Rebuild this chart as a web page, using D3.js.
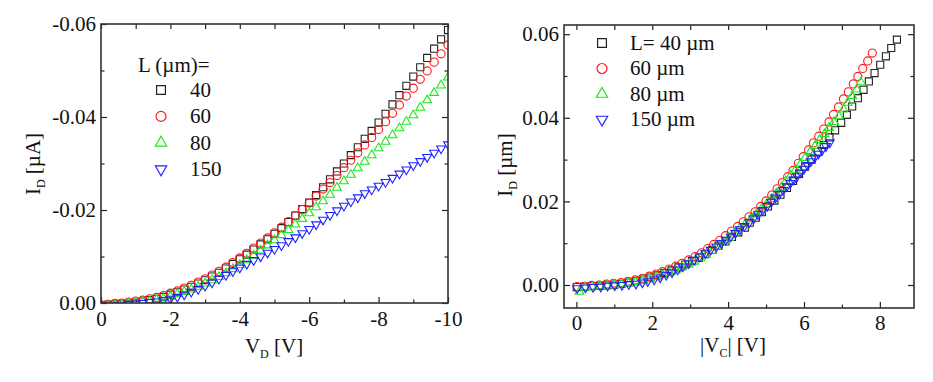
<!DOCTYPE html>
<html>
<head>
<meta charset="UTF-8">
<title>I-V curves</title>
<style>
  body { margin: 0; background: #fff; }
  svg { display: block; }
  .axis text { font-family: "Liberation Serif", "Times New Roman", serif; font-size: 21px; fill: #111; }
  .axis line { stroke: #222; stroke-width: 1.2; }
  .frame { fill: none; stroke: #333; stroke-width: 1.6; }
  .label { font-family: "Liberation Serif", "Times New Roman", serif; font-size: 21px; fill: #111; }
</style>
</head>
<body>
<div id="chart"></div>
<script src="https://cdn.jsdelivr.net/npm/d3@7"></script>
<script>

// drain voltage steps (left panel x)
const VD = [0,-0.2,-0.4,-0.6,-0.8,-1,-1.2,-1.4,-1.6,-1.8,-2,-2.2,-2.4,-2.6,-2.8,-3,-3.2,-3.4,-3.6,-3.8,
  -4,-4.2,-4.4,-4.6,-4.8,-5,-5.2,-5.4,-5.6,-5.8,-6,-6.2,-6.4,-6.6,-6.8,-7,-7.2,-7.4,-7.6,-7.8,
  -8,-8.2,-8.4,-8.6,-8.8,-9,-9.2,-9.4,-9.6,-9.8,-10];

// |I_D| in uA for each channel length
const ID40 = [-0.0005,-0.0004,-0.0003,-0.0002,-0.0001,0.0001,0.0003,0.0006,0.0009,0.0013,
  0.0018,0.0023,0.0029,0.0035,0.0042,0.0049,0.0057,0.0065,0.0074,0.0084,
  0.0094,0.0104,0.0115,0.0126,0.0137,0.0149,0.0161,0.0174,0.0188,0.0202,
  0.0216,0.0232,0.0249,0.0266,0.0283,0.0300,0.0318,0.0335,0.0353,0.0370,
  0.0388,0.0407,0.0427,0.0447,0.0467,0.0487,0.0507,0.0527,0.0547,0.0567,0.0587];
const ID60 = [-0.0004,-0.0003,-0.0001,0.0000,0.0002,0.0004,0.0006,0.0009,0.0012,0.0016,
  0.0021,0.0026,0.0032,0.0038,0.0045,0.0052,0.0060,0.0068,0.0077,0.0087,
  0.0097,0.0107,0.0118,0.0129,0.0140,0.0151,0.0163,0.0175,0.0188,0.0201,
  0.0215,0.0230,0.0245,0.0259,0.0274,0.0291,0.0307,0.0323,0.0340,0.0356,
  0.0373,0.0390,0.0408,0.0426,0.0445,0.0462,0.0481,0.0499,0.0518,0.0536,0.0555];
const ID80 = [-0.0016,-0.0006,-0.0004,-0.0003,-0.0001,0.0000,0.0002,0.0004,0.0007,0.0010,
  0.0014,0.0019,0.0024,0.0029,0.0035,0.0042,0.0049,0.0056,0.0064,0.0073,
  0.0082,0.0092,0.0102,0.0113,0.0124,0.0135,0.0146,0.0157,0.0169,0.0181,
  0.0193,0.0206,0.0219,0.0233,0.0248,0.0262,0.0276,0.0290,0.0304,0.0318,
  0.0333,0.0347,0.0361,0.0376,0.0390,0.0404,0.0420,0.0436,0.0452,0.0468,0.0485];
const ID150 = [-0.0008,-0.0006,-0.0005,-0.0004,-0.0002,-0.0001,0.0000,0.0002,0.0003,0.0006,
  0.0009,0.0013,0.0018,0.0024,0.0030,0.0037,0.0044,0.0052,0.0060,0.0068,
  0.0076,0.0084,0.0092,0.0100,0.0108,0.0116,0.0124,0.0133,0.0141,0.0150,
  0.0159,0.0169,0.0179,0.0189,0.0199,0.0209,0.0218,0.0227,0.0236,0.0244,
  0.0252,0.0260,0.0269,0.0278,0.0287,0.0296,0.0305,0.0314,0.0323,0.0332,0.0341];

// |V_C| for the same points (right panel x)
const VC40 = [0.01,0.21,0.41,0.61,0.80,1.00,1.19,1.38,1.58,1.77,
  1.95,2.14,2.32,2.51,2.69,2.87,3.05,3.23,3.40,3.58,
  3.75,3.93,4.10,4.27,4.44,4.57,4.73,4.89,5.05,5.22,
  5.38,5.55,5.71,5.87,6.03,6.20,6.36,6.52,6.67,6.82,
  6.98,7.13,7.27,7.42,7.57,7.71,7.86,8.01,8.16,8.30,8.45];
const VC60 = [0.02,0.21,0.40,0.60,0.79,0.98,1.18,1.36,1.55,1.74,
  1.92,2.10,2.27,2.45,2.62,2.79,2.96,3.13,3.30,3.46,
  3.62,3.78,3.93,4.09,4.25,4.40,4.55,4.71,4.86,5.00,
  5.15,5.29,5.43,5.57,5.71,5.85,5.98,6.12,6.25,6.39,
  6.52,6.66,6.78,6.91,7.04,7.17,7.30,7.42,7.55,7.68,7.80];
const VC80 = [0.08,0.23,0.42,0.62,0.81,1.00,1.19,1.38,1.56,1.75,
  1.93,2.10,2.28,2.45,2.62,2.78,2.95,3.11,3.27,3.42,
  3.58,3.73,3.87,4.02,4.16,4.30,4.45,4.59,4.73,4.87,
  5.01,5.14,5.27,5.40,5.52,5.65,5.78,5.91,6.03,6.16,
  6.29,6.41,6.54,6.66,6.79,6.92,7.04,7.15,7.27,7.39,7.50];
const VC150 = [0.02,0.24,0.44,0.64,0.82,1.01,1.20,1.38,1.57,1.74,
  1.88,2.05,2.21,2.37,2.52,2.67,2.81,2.96,3.10,3.25,
  3.40,3.54,3.69,3.82,3.94,4.07,4.19,4.31,4.43,4.56,
  4.67,4.79,4.91,5.03,5.14,5.25,5.35,5.45,5.55,5.64,
  5.73,5.82,5.91,6.00,6.09,6.18,6.28,6.38,6.48,6.58,6.68];

const L_VALUES = ["40", "60", "80", "150"];
const LEGEND_R = ["L= 40 \u00b5m", "60 \u00b5m", "80 \u00b5m", "150 \u00b5m"];

// ticks
const VD_TICKS = [0, -2, -4, -6, -8, -10];
const VD_MINOR = [-1, -3, -5, -7, -9];
const IDL_TICKS = [0, -0.02, -0.04, -0.06];
const IDL_MINOR = [-0.01, -0.03, -0.05];
const VC_TICKS = [0, 2, 4, 6, 8];
const VC_MINOR = [1, 3, 5, 7];
const IDR_TICKS = [0, 0.02, 0.04, 0.06];
const IDR_MINOR = [0.01, 0.03, 0.05];

const series = [
  {name: L_VALUES[0], id: ID40, vc: VC40, color: "#222", sym: d3.symbolSquare, size: 50, lsize: 78, rot: 0},
  {name: L_VALUES[1], id: ID60, vc: VC60, color: "#ff1a1a", sym: d3.symbolCircle, size: 52, lsize: 78, rot: 0},
  {name: L_VALUES[2], id: ID80, vc: VC80, color: "#1ee81e", sym: d3.symbolTriangle, size: 34, lsize: 55, rot: 0},
  {name: L_VALUES[3], id: ID150, vc: VC150, color: "#2222ff", sym: d3.symbolTriangle, size: 34, lsize: 55, rot: 180}
];

const width = 933, height = 382;
const svg = d3.select("#chart").append("svg").attr("width", width).attr("height", height);

const xL = d3.scaleLinear().domain([0, -10]).range([101, 448]);
const yL = d3.scaleLinear().domain([0, -0.06]).range([303, 24]);
const xR = d3.scaleLinear().domain([-0.327, 8.9]).range([564, 914]);
const yR = d3.scaleLinear().domain([-0.0055, 0.0622]).range([308, 25]);

function axes(g, x, y, xt, xm, yt, ym, xf, yf, xpad) {
  const [x0, x1] = x.range(), [y1, y0] = y.range();
  const clean = s => s.attr("font-size", null).attr("font-family", null).select(".domain").remove();
  g.append("g").attr("class", "axis").attr("transform", `translate(0,${y1})`)
    .call(d3.axisBottom(x).tickValues(xt).tickSize(-6).tickPadding(xpad).tickFormat(xf)).call(clean);
  g.append("g").attr("class", "axis").attr("transform", `translate(0,${y1})`)
    .call(d3.axisBottom(x).tickValues(xm).tickSize(-3.5).tickFormat("")).call(clean);
  g.append("g").attr("class", "axis").attr("transform", `translate(0,${y0})`)
    .call(d3.axisTop(x).tickValues(xt.concat(xm)).tickSize(-5).tickFormat("")).call(clean);
  g.append("g").attr("class", "axis").attr("transform", `translate(${x0},0)`)
    .call(d3.axisLeft(y).tickValues(yt).tickSize(-6).tickPadding(5).tickFormat(yf)).call(clean);
  g.append("g").attr("class", "axis").attr("transform", `translate(${x0},0)`)
    .call(d3.axisLeft(y).tickValues(ym).tickSize(-3.5).tickFormat("")).call(clean);
  g.append("g").attr("class", "axis").attr("transform", `translate(${x1},0)`)
    .call(d3.axisRight(y).tickValues(yt).tickSize(-6).tickFormat("")).call(clean);
  g.append("g").attr("class", "axis").attr("transform", `translate(${x1},0)`)
    .call(d3.axisRight(y).tickValues(ym).tickSize(-3.5).tickFormat("")).call(clean);
  g.append("rect").attr("class", "frame")
    .attr("x", x0).attr("y", y0).attr("width", x1 - x0).attr("height", y1 - y0);
}

function markers(g, clipId, x, y, pts, s) {
  g.append("g").attr("clip-path", `url(#${clipId})`)
    .selectAll("path").data(pts).join("path")
    .attr("d", d3.symbol().type(s.sym).size(s.size))
    .attr("transform", d => `translate(${x(d[0])},${y(d[1])}) rotate(${s.rot})`)
    .attr("fill", "none").attr("stroke", s.color).attr("stroke-width", 1.1);
}

function clip(id, x, y) {
  svg.append("clipPath").attr("id", id).append("rect")
    .attr("x", x.range()[0]).attr("y", y.range()[1])
    .attr("width", x.range()[1] - x.range()[0]).attr("height", y.range()[0] - y.range()[1]);
}

function legendMark(g, s, cx, cy) {
  g.append("path")
    .attr("d", d3.symbol().type(s.sym).size(s.lsize))
    .attr("transform", `translate(${cx},${cy}) rotate(${s.rot})`)
    .attr("fill", "none").attr("stroke", s.color).attr("stroke-width", 1.2);
}

function subTitle(g, parts, attrs) {
  const t = g.append("text").attr("class", "label").attr("text-anchor", "middle");
  Object.entries(attrs).forEach(([k, v]) => t.attr(k, v));
  parts.forEach(p => {
    const ts = t.append("tspan").text(p.t);
    if (p.sub) ts.attr("font-size", 12).attr("dy", 5);
    if (p.back) ts.attr("dy", -5);
  });
}

// ---- left panel: I_D vs V_D
clip("clipL", xL, yL);
const gL = svg.append("g");
series.forEach(s => markers(gL, "clipL", xL, yL, VD.map((v, i) => [v, -s.id[i]]), s));
axes(gL, xL, yL, VD_TICKS, VD_MINOR, IDL_TICKS, IDL_MINOR, d => String(d), d => d.toFixed(2), 8);

subTitle(gL, [{t: "V"}, {t: "D", sub: true}, {t: " [V]", back: true}], {x: 274, y: 353});
subTitle(gL, [{t: "I"}, {t: "D", sub: true}, {t: " [\u00b5A]", back: true}],
  {transform: "translate(40,164) rotate(-90)"});

gL.append("text").attr("class", "label").attr("x", 138).attr("y", 72).text("L (\u00b5m)=");
series.forEach((s, i) => {
  legendMark(gL, s, 161, 90 + i * 26.4);
  gL.append("text").attr("class", "label").attr("x", 190).attr("y", 97 + i * 26.4).text(s.name);
});

// ---- right panel: I_D vs |V_C|
clip("clipR", xR, yR);
const gR = svg.append("g");
series.forEach(s => markers(gR, "clipR", xR, yR, s.vc.map((v, i) => [v, s.id[i]]), s));
axes(gR, xR, yR, VC_TICKS, VC_MINOR, IDR_TICKS, IDR_MINOR, d => String(d), d => d.toFixed(2), 7);

subTitle(gR, [{t: "|V"}, {t: "C", sub: true}, {t: "| [V]", back: true}], {x: 733, y: 352});
subTitle(gR, [{t: "I"}, {t: "D", sub: true}, {t: " [\u00b5m]", back: true}],
  {transform: "translate(512,165) rotate(-90)"});

series.forEach((s, i) => {
  legendMark(gR, s, 602, 43 + i * 25.5);
  gR.append("text").attr("class", "label").attr("x", 630).attr("y", 49.5 + i * 25.5).text(LEGEND_R[i]);
});

</script>
</body>
</html>
